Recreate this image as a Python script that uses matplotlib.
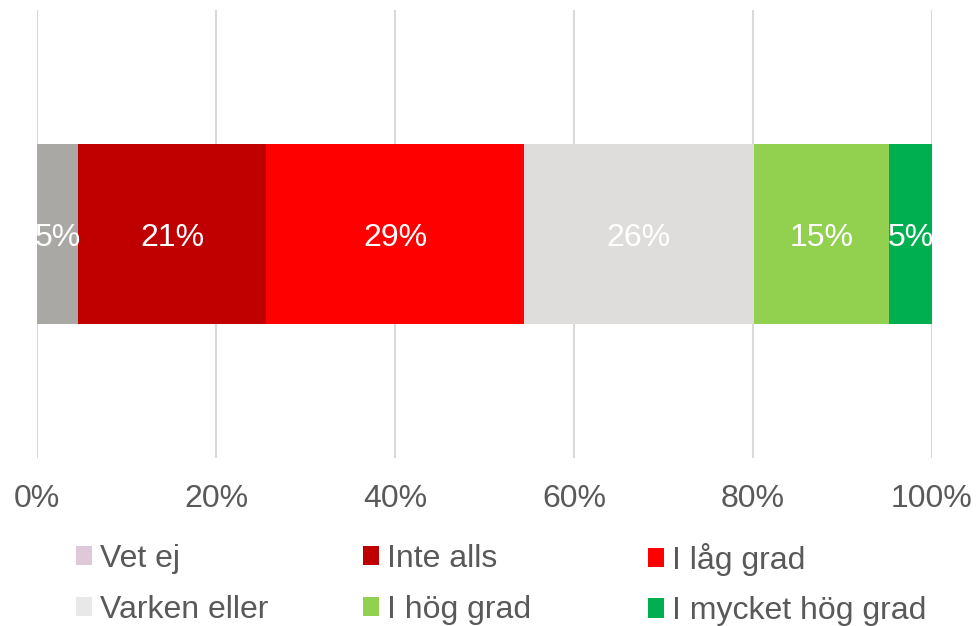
import matplotlib
matplotlib.use("Agg")
import matplotlib.pyplot as plt
from matplotlib.patches import Patch

plt.rcParams['font.family'] = ['Liberation Sans', 'DejaVu Sans']

categories = ["Vet ej", "Inte alls", "I låg grad", "Varken eller", "I hög grad", "I mycket hög grad"]
values = [4.6, 21.0, 28.8, 25.7, 15.1, 4.8]
value_labels = ["5%", "21%", "29%", "26%", "15%", "5%"]
bar_colors = ["#A9A8A5", "#C00000", "#FF0000", "#DEDDDC", "#92D050", "#00B050"]
legend_colors = ["#DFC8D7", "#C00000", "#FF0000", "#E8E8E8", "#92D050", "#00B050"]
xticks = [0, 20, 40, 60, 80, 100]
xtick_labels = ["0%", "20%", "40%", "60%", "80%", "100%"]

FS = 23
W, H = 978, 626
fig = plt.figure(figsize=(W / 100, H / 100), dpi=100)
ax = fig.add_axes([37 / W, 1 - 458 / H, (932 - 37) / W, (458 - 10) / H])

left = 0
for v, c, lab in zip(values, bar_colors, value_labels):
    ax.barh(0, v, left=left, height=0.402, color=c, zorder=2)
    ax.text(left + v / 2, 0, lab, ha='center', va='center_baseline', color='white', fontsize=FS, zorder=3)
    left += v

ax.set_xlim(0, 100)
ax.set_ylim(-0.5, 0.5)
ax.set_yticks([])
ax.set_xticks(xticks)
ax.set_xticklabels(xtick_labels, fontsize=FS, color='#595959')
ax.tick_params(axis='x', length=0, pad=19)
ax.grid(axis='x', color='#D9D9D9', linewidth=1.5, zorder=0)
for s in ax.spines.values():
    s.set_visible(False)

col_x = [76, 363, 648]
for ci in range(3):
    idxs = [ci, ci + 3]
    handles = [Patch(facecolor=legend_colors[i], edgecolor='none', label=categories[i]) for i in idxs]
    fig.legend(handles=handles, loc='center left', bbox_to_anchor=(col_x[ci] / W, 1 - 584.5 / H),
               bbox_transform=fig.transFigure, frameon=False, fontsize=FS,
               handlelength=0.5, handleheight=0.55, handletextpad=0.25,
               labelspacing=0.65, borderpad=0, borderaxespad=0, labelcolor='#595959')

fig.savefig("out.png", dpi=100)
